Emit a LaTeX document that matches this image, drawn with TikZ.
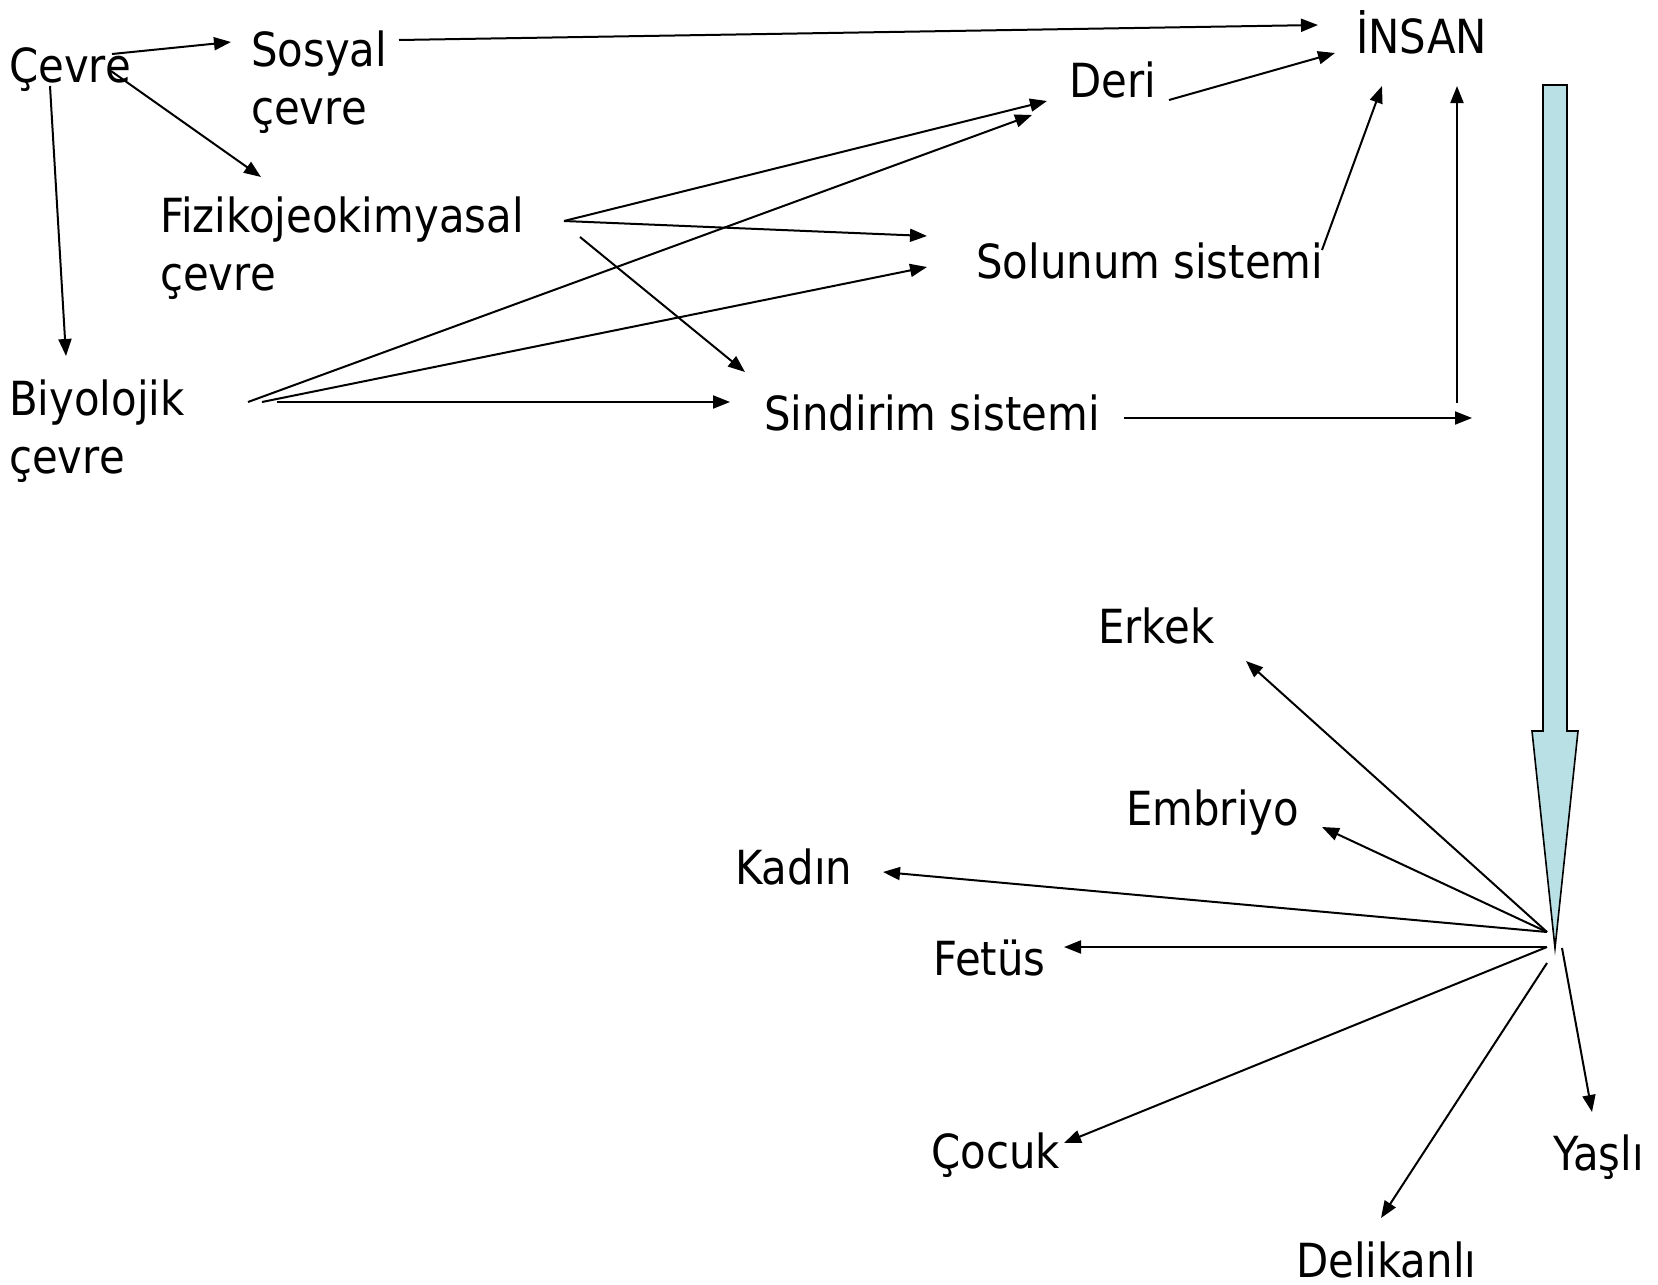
\documentclass[tikz,border=0pt]{standalone}
\usepackage{fontspec}
\setmainfont{DejaVu Sans}[FakeStretch=0.89]
\usetikzlibrary{arrows.meta}
\definecolor{blockfill}{RGB}{185,224,228}
\begin{document}
\begin{tikzpicture}[x=1pt,y=-1pt,
  lbl/.style={inner sep=0pt, anchor=base west, font=\fontsize{47}{56}\selectfont},
  conn/.style={line width=2pt, -{Triangle[length=17pt,width=13pt]}},
  blockarrow/.style={draw=black, line width=1.6pt, fill=blockfill, line join=miter}]
\useasboundingbox (0,0) rectangle (1658,1285);

% labels
\node[lbl] (cevre) at (9,82) {Çevre};
\node[lbl] (sosyal) at (251,66) {Sosyal};
\node[lbl] (sosyalb) at (251,124) {çevre};
\node[lbl] (fiziko) at (160,232) {Fizikojeokimyasal};
\node[lbl] (fizikob) at (160,290) {çevre};
\node[lbl] (biyo) at (9,415) {Biyolojik};
\node[lbl] (biyob) at (9,473) {çevre};
\node[lbl] (deri) at (1069,97) {Deri};
\node[lbl] (insan) at (1356,53) {İNSAN};
\node[lbl] (solunum) at (976,278) {Solunum sistemi};
\node[lbl] (sindirim) at (764,430) {Sindirim sistemi};
\node[lbl] (erkek) at (1098,643) {Erkek};
\node[lbl] (embriyo) at (1126,825) {Embriyo};
\node[lbl] (kadin) at (735,884) {Kadın};
\node[lbl] (fetus) at (933,975) {Fetüs};
\node[lbl] (cocuk) at (931,1168) {Çocuk};
\node[lbl] (yasli) at (1553,1170) {Yaşlı};
\node[lbl] (delikanli) at (1296,1277) {Delikanlı};

% connector end points
\coordinate (cevreA) at (112,54);   \coordinate (sosyalIn) at (231,42);
\coordinate (cevreB) at (111,71);   \coordinate (fizikoIn) at (261,177);
\coordinate (cevreC) at (50,86);    \coordinate (biyoIn) at (66,356);
\coordinate (sosyalOut) at (399,40); \coordinate (insanInA) at (1318,25);
\coordinate (deriOut) at (1169,100); \coordinate (insanInB) at (1335,53);
\coordinate (fizikoHub) at (564,221);
\coordinate (deriInA) at (1047,101); \coordinate (solunumInA) at (927,236);
\coordinate (fizikoOut) at (580,237); \coordinate (sindirimInA) at (745,372);
\coordinate (biyoOutA) at (248,402); \coordinate (deriInB) at (1032,115);
\coordinate (biyoOutB) at (262,402); \coordinate (solunumInB) at (927,267);
\coordinate (biyoOutC) at (277,402); \coordinate (sindirimInB) at (730,402);
\coordinate (solunumOut) at (1322,250); \coordinate (insanInC) at (1382,86);
\coordinate (sindirimOut) at (1124,418); \coordinate (corner) at (1472,418);
\coordinate (riseFoot) at (1457,403); \coordinate (insanInD) at (1457,86);
\coordinate (hubA) at (1547,932);
\coordinate (hubB) at (1547,947);
\coordinate (hubC) at (1547,963);
\coordinate (hubD) at (1562,948);
\coordinate (erkekIn) at (1246,661);
\coordinate (embriyoIn) at (1322,827);
\coordinate (kadinIn) at (883,872);
\coordinate (fetusIn) at (1064,947);
\coordinate (cocukIn) at (1064,1143);
\coordinate (delikanliIn) at (1381,1218);
\coordinate (yasliIn) at (1592,1112);

% top connectors
\draw[conn] (cevreA) -- (sosyalIn);
\draw[conn] (cevreB) -- (fizikoIn);
\draw[conn] (cevreC) -- (biyoIn);
\draw[conn] (sosyalOut) -- (insanInA);
\draw[conn] (deriOut) -- (insanInB);
\draw[conn] (fizikoHub) -- (deriInA);
\draw[conn] (fizikoHub) -- (solunumInA);
\draw[conn] (fizikoOut) -- (sindirimInA);
\draw[conn] (biyoOutA) -- (deriInB);
\draw[conn] (biyoOutB) -- (solunumInB);
\draw[conn] (biyoOutC) -- (sindirimInB);
\draw[conn] (solunumOut) -- (insanInC);
\draw[conn] (sindirimOut) -- (corner);
\draw[conn] (riseFoot) -- (insanInD);

% block arrow
\draw[blockarrow] (1543,85) -- (1567,85) -- (1567,731) -- (1578,731) -- (1555,948)
  -- (1532,731) -- (1543,731) -- cycle;

% fan connectors
\draw[conn] (hubA) -- (erkekIn);
\draw[conn] (hubA) -- (embriyoIn);
\draw[conn] (hubA) -- (kadinIn);
\draw[conn] (hubB) -- (fetusIn);
\draw[conn] (hubB) -- (cocukIn);
\draw[conn] (hubC) -- (delikanliIn);
\draw[conn] (hubD) -- (yasliIn);
\end{tikzpicture}
\end{document}
